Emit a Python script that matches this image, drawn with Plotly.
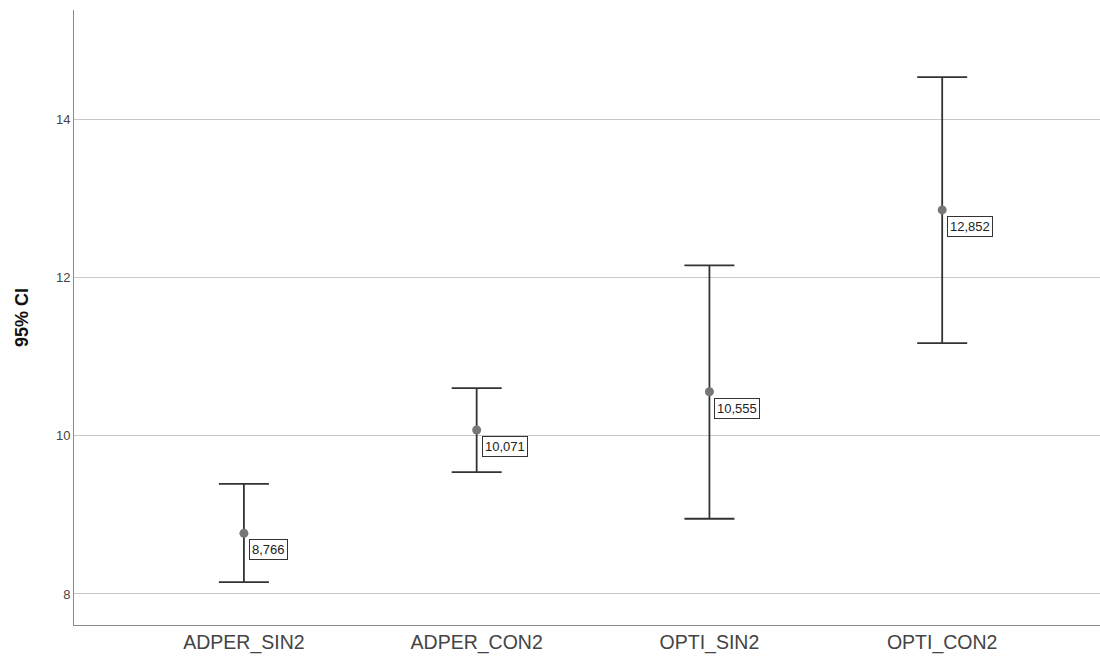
import plotly.graph_objects as go

categories = ["ADPER_SIN2", "ADPER_CON2", "OPTI_SIN2", "OPTI_CON2"]
means = [8.766, 10.071, 10.555, 12.852]
upper = [9.39, 10.60, 12.15, 14.53]
lower = [8.15, 9.54, 8.95, 11.17]
mean_labels = ["8,766", "10,071", "10,555", "12,852"]
y_ticks = [8, 10, 12, 14]

xpos = list(range(len(categories)))
err_plus = [u - m for u, m in zip(upper, means)]
err_minus = [m - l for m, l in zip(means, lower)]

fig = go.Figure()
fig.add_trace(go.Scatter(
    x=xpos, y=means, mode="markers",
    marker=dict(color="#777777", size=9),
    error_y=dict(type="data", symmetric=False, array=err_plus, arrayminus=err_minus,
                 color="#333333", thickness=1.8, width=25),
    showlegend=False,
))

for x, m, t in zip(xpos, means, mean_labels):
    fig.add_annotation(x=x, y=m, text=t, showarrow=False, xanchor="left", yanchor="top",
                       xshift=5, yshift=-6, bgcolor="white", bordercolor="#333333",
                       borderwidth=1, borderpad=2, font=dict(size=13, color="#222222",
                                                             family="Liberation Sans, Arial"))

fig.update_layout(
    width=1100, height=658,
    margin=dict(l=74, r=0, t=10, b=33),
    plot_bgcolor="white", paper_bgcolor="white",
    font=dict(family="Liberation Sans, Arial", color="#333333"),
    xaxis=dict(range=[-0.73, 3.678], tickvals=xpos, ticktext=categories,
               showgrid=False, zeroline=False, showline=True, linecolor="#888888",
               linewidth=1, ticks="", tickfont=dict(size=19.5, color="#444444")),
    yaxis=dict(range=[7.608, 15.377], tickvals=y_ticks, showgrid=True,
               gridcolor="#c8c8c8", gridwidth=1, zeroline=False, showline=True,
               linecolor="#888888", linewidth=1, ticks="",
               tickfont=dict(size=13, color="#444444"),
               title=dict(text="<b>95% CI</b>", font=dict(size=18, color="#111111"),
                          standoff=22)),
)

fig.write_html("out.html", config={"displayModeBar": False},
               post_script="document.body.style.margin='0';document.body.style.overflow='hidden';")
